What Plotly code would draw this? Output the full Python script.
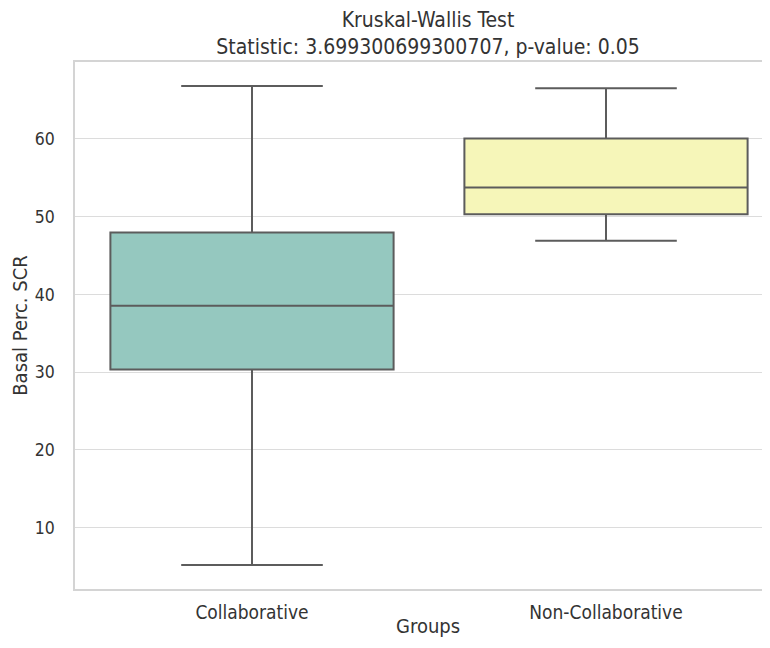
import plotly.graph_objects as go

groups = ["Collaborative", "Non-Collaborative"]
lower_whisker = [5.2, 46.9]
q1_vals = [30.35, 50.3]
medians = [38.55, 53.75]
q3_vals = [47.95, 60.05]
upper_whisker = [66.8, 66.5]
fill_colors = ["#95c8bf", "#f6f6b9"]
y_ticks = [10, 20, 30, 40, 50, 60]

title_line1 = "Kruskal-Wallis Test"
title_line2 = "Statistic: 3.699300699300707, p-value: 0.05"
x_title = "Groups"
y_title = "Basal Perc. SCR"

# page has an 8px body margin on every side; keep the figure inside the window
W, H = 754, 632
L, T, B = 67, 54, 51
PX_PER_CAT = 354
plot_h = H - T - B
plot_w = W - L

fig = go.Figure()
for i, g in enumerate(groups):
    fig.add_trace(go.Box(
        x=[g],
        q1=[q1_vals[i]], median=[medians[i]], q3=[q3_vals[i]],
        lowerfence=[lower_whisker[i]], upperfence=[upper_whisker[i]],
        fillcolor=fill_colors[i],
        line=dict(color="#5c5c5c", width=2),
        width=0.8, whiskerwidth=0.5,
        boxpoints=False, hoverinfo="skip", showlegend=False,
    ))

font_family = "DejaVu Sans Condensed, DejaVu Sans"
text_color = "#333333"

fig.update_layout(
    width=W, height=H,
    margin=dict(l=L, r=0, t=T, b=B),
    paper_bgcolor="white", plot_bgcolor="white",
    font=dict(family=font_family, size=18, color=text_color),
    title=dict(
        text=title_line1 + "<br>" + title_line2,
        x=420 / W, xref="container", xanchor="center",
        y=1 - 19 / H, yref="container", yanchor="middle",
        font=dict(family=font_family, size=21, color=text_color),
    ),
    showlegend=False,
)

fig.add_annotation(
    text=x_title, xref="paper", yref="paper",
    x=(420 - L) / plot_w, y=-37 / plot_h,
    xanchor="center", yanchor="middle", showarrow=False,
    font=dict(family=font_family, size=20, color=text_color),
)

fig.update_xaxes(
    type="category",
    categoryorder="array", categoryarray=groups,
    range=[-0.5, -0.5 + plot_w / PX_PER_CAT],
    showgrid=False, zeroline=False, automargin=False,
    showline=True, linecolor="#d4d4d4", linewidth=1.5, mirror=True,
    ticks="", ticklabelstandoff=5,
    tickfont=dict(size=19),
)
fig.update_yaxes(
    range=[2.12, 69.88],
    tickvals=y_ticks,
    showgrid=True, gridcolor="#dcdcdc", gridwidth=1.4,
    zeroline=False, automargin=False,
    showline=True, linecolor="#d4d4d4", linewidth=1.5, mirror=False,
    ticks="", ticklabelstandoff=15,
    title=dict(text=y_title, standoff=12, font=dict(size=20)),
    tickfont=dict(size=17.5),
)

fig.write_html("out.html")
